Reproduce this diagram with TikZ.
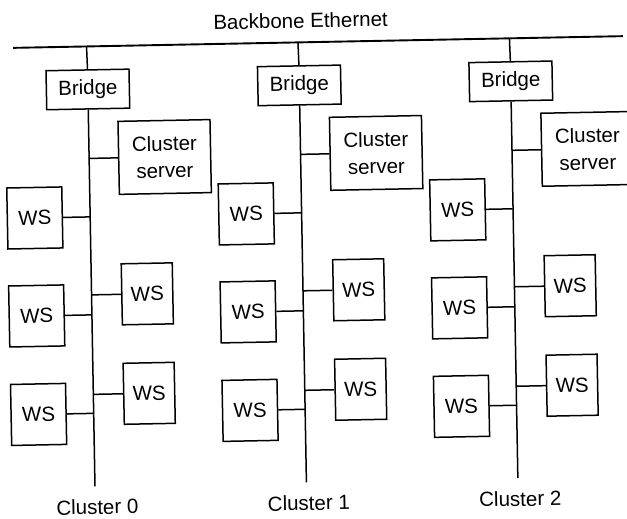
\documentclass[tikz,border=0pt]{standalone}
\usepackage{fontspec}
\setmainfont{Liberation Sans}
\begin{document}
\begin{tikzpicture}[x=1pt,y=-1pt,
  box/.style={draw,line width=1.5pt,inner sep=0pt,align=center,font=\fontsize{20.5}{27}\selectfont},
  bridgebox/.style={box,minimum width=83pt,minimum height=39pt},
  serverbox/.style={box,minimum width=92pt,minimum height=73pt},
  wsl/.style={box,minimum width=55pt,minimum height=61pt},
  wsr/.style={box,minimum width=51pt,minimum height=61pt},
  wire/.style={line width=1.5pt},
  bbwire/.style={line width=1.9pt},
  lbl/.style={font=\fontsize{20.5}{24}\selectfont,inner sep=0pt}]
\useasboundingbox (0,0) rectangle (627,519);
\begin{scope}[rotate around={1.1:(298,42.4)},transform shape]
  \coordinate (bbL) at (13,42.4);
  \coordinate (bbR) at (623,42.4);
  \draw[bbwire] (bbL) -- (bbR);
  \node[lbl,anchor=base] (title) at (301,28) {Backbone Ethernet};
  \foreach \i/\sx in {0/86.5,1/298,2/509.5}{
    \coordinate (top\i) at (\sx,42.4);
    \coordinate (bot\i) at (\sx,482.4);
    \node[bridgebox] (br\i) at (\sx+0.5,85.4) {Bridge};
    \node[serverbox] (sv\i) at (\sx+76,154.4) {Cluster\\server};
    \node[wsl] (wla\i) at (\sx-55,212.9) {WS};
    \node[wsl] (wlb\i) at (\sx-55,310.9) {WS};
    \node[wsl] (wlc\i) at (\sx-55,409.4) {WS};
    \node[wsr] (wra\i) at (\sx+56,290.9) {WS};
    \node[wsr] (wrb\i) at (\sx+56,390.4) {WS};
    \node[lbl,anchor=base] (cl\i) at (\sx+2,510.4) {Cluster \i};
    \draw[wire] (top\i) -- (br\i.north);
    \draw[wire] (br\i.south) -- (bot\i);
    \draw[wire] (sv\i.west) -- (sv\i.west -| top\i);
    \draw[wire] (wla\i.east) -- (wla\i.east -| top\i);
    \draw[wire] (wlb\i.east) -- (wlb\i.east -| top\i);
    \draw[wire] (wlc\i.east) -- (wlc\i.east -| top\i);
    \draw[wire] (wra\i.west) -- (wra\i.west -| top\i);
    \draw[wire] (wrb\i.west) -- (wrb\i.west -| top\i);
  }
\end{scope}
\end{tikzpicture}
\end{document}
